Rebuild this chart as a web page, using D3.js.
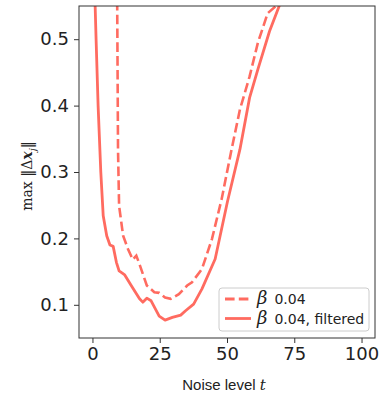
<!DOCTYPE html>
<html lang="en">
<head>
<meta charset="utf-8">
<title>max dx vs noise level</title>
<script src="https://cdn.jsdelivr.net/npm/d3@7/dist/d3.min.js"></script>
<style>
  body { margin: 0; background: #fff; }
  .axis text { font-family: "DejaVu Sans", sans-serif; font-size: 18px; fill: #222; }
  .axis path, .axis line { stroke: #333; }
</style>
</head>
<body>
<script>
var w = 384, h = 394;
var margin = {top: 6, right: 9, bottom: 56, left: 79};
var width = w - margin.left - margin.right,
    height = h - margin.top - margin.bottom;

var lineColor = "#ff6b60";

// beta 0.04 (dashed)
var rawT = [9.0, 9.2, 9.5, 9.9, 11.4, 13.2, 15.0, 16.3, 17.5, 20.2, 23.0, 24.8, 27.0, 29.1, 32.1, 35.2, 37.0, 40.7, 44.4, 48.0, 51.7, 54.8, 58.4, 61.5, 65.1, 68.2, 70.0];
var rawY = [0.62, 0.55, 0.334, 0.249, 0.204, 0.184, 0.168, 0.174, 0.161, 0.129, 0.119, 0.118, 0.111, 0.109, 0.116, 0.129, 0.134, 0.154, 0.199, 0.259, 0.334, 0.394, 0.444, 0.495, 0.539, 0.55, 0.57];

// beta 0.04, filtered (solid)
var filtT = [0.5, 1.0, 1.35, 2.1, 3.1, 4.0, 5.3, 6.5, 7.7, 8.9, 9.9, 12.0, 14.4, 17.5, 18.7, 20.2, 21.8, 24.8, 27.0, 29.7, 32.8, 34.6, 37.6, 40.7, 45.6, 50.2, 54.8, 58.4, 61.5, 65.8, 69.4, 71.0];
var filtY = [0.62, 0.55, 0.5, 0.4, 0.3, 0.234, 0.204, 0.19, 0.188, 0.164, 0.151, 0.145, 0.129, 0.109, 0.104, 0.110, 0.106, 0.083, 0.077, 0.081, 0.0845, 0.091, 0.101, 0.124, 0.169, 0.256, 0.334, 0.412, 0.455, 0.512, 0.55, 0.57];

var xTicks = [0, 25, 50, 75, 100];
var yTicks = [0.1, 0.2, 0.3, 0.4, 0.5];

var svg = d3.select("body").append("svg")
    .attr("width", w)
    .attr("height", h);

var xScale = d3.scaleLinear().domain([-5, 105]).range([margin.left, margin.left + width]);
var yScale = d3.scaleLinear().domain([0.05, 0.55]).range([margin.top + height, margin.top]);

svg.append("defs").append("clipPath").attr("id", "plotclip")
   .append("rect")
   .attr("x", margin.left).attr("y", margin.top)
   .attr("width", width).attr("height", height);

var line = d3.line()
    .x(function(d) { return xScale(d[0]); })
    .y(function(d) { return yScale(d[1]); });

var plot = svg.append("g").attr("clip-path", "url(#plotclip)");

plot.append("path")
    .datum(d3.zip(rawT, rawY))
    .attr("d", line)
    .attr("fill", "none")
    .attr("stroke", lineColor)
    .attr("stroke-width", 2.6)
    .attr("stroke-dasharray", "9.6,4.2");

plot.append("path")
    .datum(d3.zip(filtT, filtY))
    .attr("d", line)
    .attr("fill", "none")
    .attr("stroke", lineColor)
    .attr("stroke-width", 2.8)
    .attr("stroke-linejoin", "round");

var xAxis = d3.axisBottom(xScale).tickValues(xTicks).tickSize(5).tickPadding(4).tickSizeOuter(0);
var yAxis = d3.axisLeft(yScale).tickValues(yTicks).tickSize(5).tickPadding(5)
    .tickFormat(d3.format(".1f")).tickSizeOuter(0);

svg.append("g").attr("class", "axis")
   .attr("transform", "translate(0," + (margin.top + height) + ")")
   .call(xAxis)
   .select(".domain").remove();

svg.append("g").attr("class", "axis")
   .attr("transform", "translate(" + margin.left + ",0)")
   .call(yAxis)
   .select(".domain").remove();

// frame
svg.append("rect")
   .attr("x", margin.left).attr("y", margin.top)
   .attr("width", width).attr("height", height)
   .attr("fill", "none").attr("stroke", "#333").attr("stroke-width", 1);

// axis labels
var xl = svg.append("text")
   .attr("x", margin.left + width / 2 - 3)
   .attr("y", 390)
   .attr("text-anchor", "middle")
   .style("font-family", "'Liberation Sans', Arial, sans-serif")
   .style("font-size", "15px")
   .style("fill", "#222");
xl.append("tspan").text("Noise level ");
xl.append("tspan").style("font-family", "'DejaVu Serif', serif").style("font-style", "italic").text("t");

var yl = svg.append("text")
   .attr("transform", "translate(32," + (margin.top + height / 2 + 4) + ") rotate(-90)")
   .attr("text-anchor", "middle")
   .style("font-family", "'DejaVu Serif', serif")
   .style("font-size", "14px")
   .style("fill", "#222");
yl.append("tspan").text("max \u2016\u0394");
yl.append("tspan").style("font-weight", "bold").style("font-style", "italic").text("x");
yl.append("tspan").attr("dy", 4).style("font-style", "italic").style("font-size", "10px").text("j");
yl.append("tspan").attr("dy", -4).text("\u2016");

// legend
var legendLabels = ["0.04", "0.04, filtered"];
var legendDash = ["9.6,4.2", null];
var lg = svg.append("g").attr("transform", "translate(219,288)");
lg.append("rect")
  .attr("width", 150).attr("height", 43).attr("rx", 3)
  .attr("fill", "#fff").attr("fill-opacity", 0.8)
  .attr("stroke", "#ccc").attr("stroke-width", 1);
legendLabels.forEach(function(lab, i) {
  var yy = 11 + i * 19.5;
  lg.append("line")
    .attr("x1", 6).attr("x2", 32).attr("y1", yy).attr("y2", yy)
    .attr("stroke", lineColor).attr("stroke-width", 2.8)
    .attr("stroke-dasharray", legendDash[i]);
  var t = lg.append("text").attr("x", 38).attr("y", yy + 5)
    .style("fill", "#222");
  t.append("tspan").style("font-family", "'DejaVu Serif', serif").style("font-style", "italic")
    .style("font-size", "18px").text("\u03b2");
  t.append("tspan").attr("dx", 7).style("font-family", "'DejaVu Sans', sans-serif")
    .style("font-size", "14px").text(lab);
});
</script>
</body>
</html>
